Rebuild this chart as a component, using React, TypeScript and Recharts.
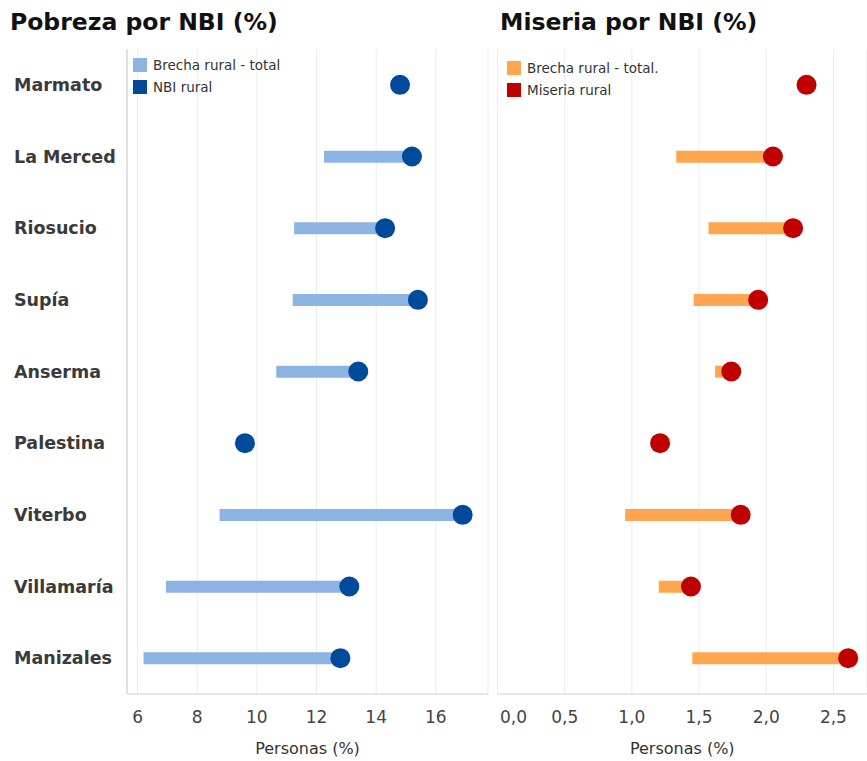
import React from "react";
import {
  ComposedChart,
  Bar,
  Line,
  XAxis,
  YAxis,
  CartesianGrid,
  Legend,
} from "recharts";

const categories = [
  "Marmato",
  "La Merced",
  "Riosucio",
  "Supía",
  "Anserma",
  "Palestina",
  "Viterbo",
  "Villamaría",
  "Manizales",
];

// NBI (%)
const nbiRural = [14.8, 15.2, 14.3, 15.4, 13.4, 9.6, 16.9, 13.1, 12.8];
const nbiTotal = [14.8, 12.25, 11.25, 11.2, 10.65, 9.6, 8.75, 6.95, 6.2];

// Miseria (%)
const miseriaRural = [2.3, 2.05, 2.2, 1.94, 1.74, 1.21, 1.81, 1.44, 2.61];
const miseriaTotal = [2.3, 1.33, 1.57, 1.46, 1.62, 1.21, 0.95, 1.2, 1.45];

const pobrezaTicks = [6, 8, 10, 12, 14, 16];
const miseriaTicks = [0, 0.5, 1, 1.5, 2, 2.5];

const pobrezaLegend = ["Brecha rural - total", "NBI rural"];
const miseriaLegend = ["Brecha rural - total.", "Miseria rural"];

const pobrezaData = categories.map((name, i) => ({
  name,
  rango: [nbiTotal[i], nbiRural[i]],
  rural: nbiRural[i],
}));

const miseriaData = categories.map((name, i) => ({
  name,
  rango: [miseriaTotal[i], miseriaRural[i]],
  rural: miseriaRural[i],
}));

const FONT = "DejaVu Sans, Verdana, sans-serif";
const FRAME = "#cfcfcf";
const GRID = "#ececec";

const CategoryTick = (props: any) => {
  const { y, payload } = props;
  return (
    <text
      x={14}
      y={y}
      dy={6}
      textAnchor="start"
      fontFamily={FONT}
      fontWeight="bold"
      fontSize={17.5}
      fill="#3a3a3a"
    >
      {payload.value}
    </text>
  );
};

const NumberTick = (props: any) => {
  const { x, y, payload, decimals } = props;
  const v = payload.value as number;
  const label = decimals ? v.toFixed(1).replace(".", ",") : String(v);
  // la primera etiqueta del eje de miseria va corrida a la derecha
  const shift = decimals && v === 0 ? 16 : 0;
  return (
    <text
      x={x + shift}
      y={y + 21}
      textAnchor="middle"
      fontFamily={FONT}
      fontSize={17}
      fill="#444"
    >
      {label}
    </text>
  );
};

const LegendBox = ({ labels, colors }: { labels: string[]; colors: string[] }) => (
  <div style={{ fontFamily: FONT, fontSize: 13.5, color: "#333" }}>
    {labels.map((l, i) => (
      <div
        key={l}
        style={{ display: "flex", alignItems: "center", height: 22, whiteSpace: "nowrap" }}
      >
        <span
          style={{
            display: "inline-block",
            width: 14,
            height: 14,
            background: colors[i],
            marginRight: 6,
          }}
        />
        {l}
      </div>
    ))}
  </div>
);

interface PanelProps {
  data: { name: string; rango: number[]; rural: number }[];
  width: number;
  margin: { top: number; right: number; bottom: number; left: number };
  domain: [number, number];
  ticks: number[];
  decimals: boolean;
  showCategories: boolean;
  barColor: string;
  dotColor: string;
  legend: string[];
  legendPos: { left: number; top: number };
}

const Panel: React.FC<PanelProps> = ({
  data,
  width,
  margin,
  domain,
  ticks,
  decimals,
  showCategories,
  barColor,
  dotColor,
  legend,
  legendPos,
}) => (
  <ComposedChart
    layout="vertical"
    width={width}
    height={761}
    data={data}
    margin={margin}
  >
    {/* rejilla */}
    <CartesianGrid horizontal={false} stroke={GRID} />
    {/* ejes */}
    <XAxis
      type="number"
      domain={domain}
      ticks={ticks}
      allowDataOverflow
      height={67}
      axisLine={{ stroke: FRAME }}
      tickLine={false}
      tick={<NumberTick decimals={decimals} />}
      interval={0}
      label={{
        value: "Personas (%)",
        position: "insideBottom",
        offset: 7,
        fontFamily: FONT,
        fontSize: 16,
        fill: "#333",
      }}
    />
    <XAxis
      xAxisId="frame"
      orientation="top"
      type="number"
      domain={domain}
      height={0}
      tick={false}
      tickLine={false}
      axisLine={{ stroke: FRAME }}
    />
    <YAxis
      type="category"
      dataKey="name"
      width={showCategories ? 127 : 0}
      axisLine={{ stroke: FRAME }}
      tickLine={false}
      tick={showCategories ? <CategoryTick /> : false}
      interval={0}
    />
    <YAxis
      yAxisId="frame"
      orientation="right"
      type="category"
      dataKey="name"
      width={0}
      tick={false}
      tickLine={false}
      axisLine={{ stroke: FRAME }}
    />
    {/* leyenda */}
    <Legend
      layout="vertical"
      align="center"
      verticalAlign="middle"
      wrapperStyle={{ left: legendPos.left, top: legendPos.top, width: "auto" }}
      content={() => <LegendBox labels={legend} colors={[barColor, dotColor]} />}
    />
    {/* brecha */}
    <Bar
      dataKey="rango"
      name={legend[0]}
      fill={barColor}
      barSize={12}
      isAnimationActive={false}
    />
    {/* valor rural */}
    <Line
      dataKey="rural"
      name={legend[1]}
      stroke="none"
      strokeWidth={0}
      dot={{ r: 10, fill: dotColor, stroke: "none" }}
      activeDot={false}
      isAnimationActive={false}
    />
  </ComposedChart>
);

const titleStyle: React.CSSProperties = {
  position: "absolute",
  top: 8,
  fontFamily: FONT,
  fontWeight: "bold",
  fontSize: 23.5,
  color: "#111",
  whiteSpace: "nowrap",
};

export default function App() {
  return (
    <div
      style={{
        position: "absolute",
        left: 0,
        top: 0,
        width: 867,
        height: 761,
        background: "#fff",
        overflow: "hidden",
      }}
    >
      <div style={{ ...titleStyle, left: 10 }}>Pobreza por NBI (%)</div>
      <div style={{ ...titleStyle, left: 500 }}>Miseria por NBI (%)</div>
      <div style={{ position: "absolute", left: 0, top: 0 }}>
        <Panel
          data={pobrezaData}
          width={490}
          margin={{ top: 49, right: 2, bottom: 0, left: 0 }}
          domain={[5.645, 17.75]}
          ticks={pobrezaTicks}
          decimals={false}
          showCategories
          barColor="#8db3e2"
          dotColor="#004a9c"
          legend={pobrezaLegend}
          legendPos={{ left: 133, top: 54 }}
        />
      </div>
      <div style={{ position: "absolute", left: 490, top: 0 }}>
        <Panel
          data={miseriaData}
          width={377}
          margin={{ top: 49, right: 0, bottom: 0, left: 7.5 }}
          domain={[0, 2.75]}
          ticks={miseriaTicks}
          decimals
          showCategories={false}
          barColor="#ffa54f"
          dotColor="#c00000"
          legend={miseriaLegend}
          legendPos={{ left: 17, top: 57 }}
        />
      </div>
    </div>
  );
}
